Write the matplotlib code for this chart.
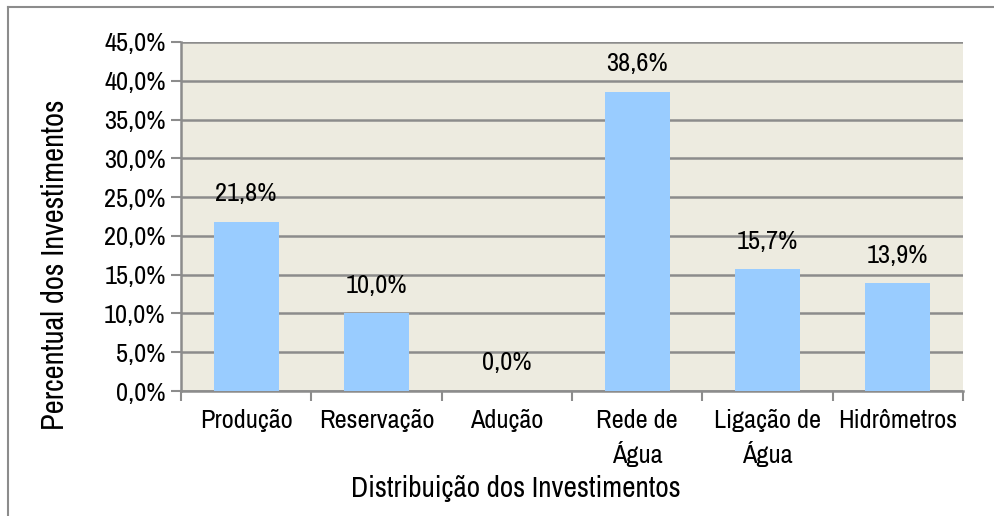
import matplotlib.pyplot as plt
from matplotlib.lines import Line2D
from matplotlib.ticker import FuncFormatter

plt.rcParams['font.family'] = ['Archivo Narrow', 'DejaVu Sans']

# Data
categorias = ['Produção', 'Reservação', 'Adução', 'Rede de\nÁgua', 'Ligação de\nÁgua', 'Hidrômetros']
percentuais = [21.8, 10.0, 0.0, 38.6, 15.7, 13.9]
y_ticks = [0, 5, 10, 15, 20, 25, 30, 35, 40, 45]

grid_color = '#8c8c8c'

fig = plt.figure(figsize=(9.95, 5.16), dpi=100)
ax = fig.add_axes([181 / 995, 1 - 391 / 516, (963 - 181) / 995, (391 - 42) / 516])
ax.set_facecolor('#edebe0')

x = range(len(categorias))
ax.bar(x, percentuais, width=0.5, color='#99ccff', zorder=3)

for xi, v in zip(x, percentuais):
    ax.annotate(f'{v:.1f}%'.replace('.', ','), (xi, v), xytext=(0, 12),
                textcoords='offset points', ha='center', va='bottom', fontsize=19)

ax.set_xlim(-0.5, len(categorias) - 0.5)
ax.set_ylim(0, 45)
ax.set_yticks(y_ticks)
ax.yaxis.set_major_formatter(FuncFormatter(lambda v, p: f'{v:.1f}%'.replace('.', ',')))
ax.set_xticks(x)
ax.set_xticklabels(categorias, fontsize=19, linespacing=1.4)
ax.set_xticks([i - 0.5 for i in range(len(categorias) + 1)], minor=True)
ax.tick_params(axis='x', which='major', length=0, pad=13)
ax.tick_params(axis='x', which='minor', length=7, width=1.5, color=grid_color)
ax.tick_params(axis='y', length=7, width=1.5, color=grid_color, labelsize=19, pad=4)

ax.grid(axis='y', color=grid_color, linewidth=1.8, zorder=1)
ax.set_axisbelow(True)
for s in ['top', 'right']:
    ax.spines[s].set_visible(False)
for s in ['left', 'bottom']:
    ax.spines[s].set_color(grid_color)
    ax.spines[s].set_linewidth(1.8)

fig.text(516 / 995, 1 - 488 / 516, 'Distribuição dos Investimentos', ha='center', va='center', fontsize=21)
fig.text(55 / 995, 1 - 265 / 516, 'Percentual dos Investimentos', ha='center', va='center',
         rotation=90, fontsize=22)

# outer frame
fig.add_artist(Line2D([8 / 995, 1], [1 - 7 / 516, 1 - 7 / 516], color='#8c8c8c', linewidth=1.5))
fig.add_artist(Line2D([8 / 995, 8 / 995], [0, 1 - 7 / 516], color='#8c8c8c', linewidth=1.5))

fig.savefig('out.png', dpi=100)
